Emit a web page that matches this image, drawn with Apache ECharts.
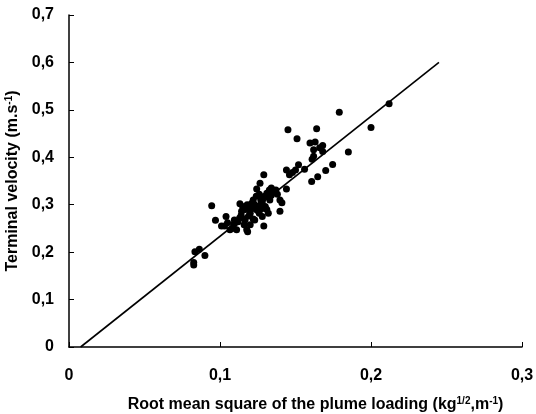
<!DOCTYPE html>
<html><head><meta charset="utf-8">
<script src="https://cdn.jsdelivr.net/npm/echarts@6/dist/echarts.min.js"></script>
<style>html,body{margin:0;padding:0;background:#fff}#c{width:536px;height:414px}</style>
</head><body><div id="c"></div>
<script>
var loading = [0.0826,0.0826,0.0834,0.0863,0.090,0.0945,0.097,0.101,0.103,0.104,0.1066,0.108,0.1095,0.111,0.112,0.1132,0.1143,0.115,0.1166,0.1177,0.1183,0.120,0.121,0.122,0.123,0.1243,0.125,0.126,0.1265,0.127,0.128,0.1287,0.129,0.129,0.130,0.131,0.132,0.1327,0.133,0.134,0.135,0.137,0.1397,0.1397,0.141,0.144,0.145,0.144,0.146,0.150,0.151,0.152,0.156,0.1596,0.1607,0.162,0.162,0.164,0.1647,0.168,0.168,0.170,0.1746,0.179,0.185,0.200,0.212,
  0.105,0.109,0.113,0.117,0.119,0.121,0.123,0.125,0.127,0.118,0.116,0.124,0.126,0.128,0.130,0.132,0.134,0.110,0.114,0.122,0.128,0.131,0.136,0.138,0.148,0.161,0.163,0.166,0.120,0.124];
var velocity = [0.173,0.178,0.201,0.206,0.193,0.298,0.267,0.255,0.255,0.275,0.247,0.250,0.268,0.247,0.264,0.302,0.286,0.296,0.268,0.247,0.243,0.282,0.303,0.310,0.268,0.333,0.296,0.282,0.345,0.310,0.275,0.317,0.363,0.255,0.296,0.324,0.282,0.331,0.310,0.335,0.328,0.331,0.310,0.286,0.304,0.333,0.458,0.373,0.363,0.373,0.439,0.384,0.375,0.430,0.349,0.416,0.402,0.460,0.359,0.425,0.412,0.372,0.385,0.495,0.411,0.463,0.513,
  0.262,0.258,0.272,0.290,0.276,0.292,0.300,0.288,0.300,0.300,0.258,0.318,0.322,0.306,0.318,0.324,0.320,0.262,0.278,0.270,0.292,0.290,0.330,0.322,0.368,0.396,0.432,0.420,0.258,0.290];
var fitX = [0.0077, 0.245];
var fitY = [0, 0.6];
var yTicks = ['0','0,1','0,2','0,3','0,4','0,5','0,6','0,7'];
var xTicks = ['0','0,1','0,2','0,3'];

var pts = loading.map(function(x,i){return [x, velocity[i]];});
var fit = fitX.map(function(x,i){return [x, fitY[i]];});
var font = 'Liberation Sans, Arial, sans-serif';
var chart = echarts.init(document.getElementById('c'));
chart.setOption({
  animation:false,
  grid:{left:69,right:14,top:15,bottom:67,containLabel:false,outerBoundsMode:'none'},
  xAxis:{type:'value',min:0,max:0.3,interval:0.1,
    axisLine:{lineStyle:{color:'#000',width:1.5}},
    axisTick:{inside:true,length:5,lineStyle:{color:'#000'}},
    splitLine:{show:false},
    axisLabel:{margin:21,color:'#000',fontSize:16,fontWeight:'bold',fontFamily:font,
      formatter:function(v){return xTicks[Math.round(v*10)];}},
    name:'{b|Root mean square of the plume loading (kg}{s|1/2}{b|,m}{s|-1}{b|)}',
    nameLocation:'middle',nameGap:49,
    nameTextStyle:{padding:[0,0,0,40],rich:{b:{fontSize:16,fontWeight:'bold',fontFamily:font,color:'#000'},
      s:{fontSize:10,fontWeight:'bold',fontFamily:font,color:'#000',verticalAlign:'top',padding:[0,0,7,0]}}}
  },
  yAxis:{type:'value',min:0,max:0.7,interval:0.1,
    axisLine:{show:true,lineStyle:{color:'#000',width:1.5}},
    axisTick:{show:true,inside:true,length:5,lineStyle:{color:'#000'}},
    splitLine:{show:false},
    axisLabel:{margin:15,color:'#000',fontSize:16,fontWeight:'bold',fontFamily:font,
      formatter:function(v){return yTicks[Math.round(v*10)];}},
    name:'{b|Terminal velocity (m.s}{s|-1}{b|)}',
    nameLocation:'middle',nameGap:39,nameRotate:90,
    nameTextStyle:{rich:{b:{fontSize:16,fontWeight:'bold',fontFamily:font,color:'#000'},
      s:{fontSize:10,fontWeight:'bold',fontFamily:font,color:'#000',verticalAlign:'top',padding:[0,0,7,0]}}}
  },
  series:[
    {type:'line',data:fit,symbol:'none',lineStyle:{color:'#000',width:1.6},z:3},
    {type:'scatter',data:pts,symbol:'circle',symbolSize:7,itemStyle:{color:'#000',opacity:1},z:4}
  ]
});
</script></body></html>
